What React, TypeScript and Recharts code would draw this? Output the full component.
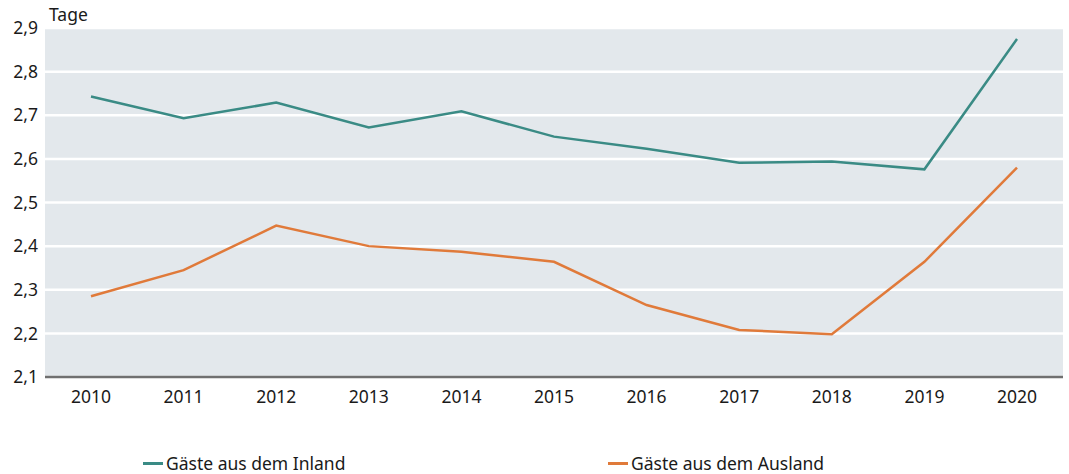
import React from "react";
import { LineChart, Line, XAxis, YAxis, CartesianGrid, Legend } from "recharts";

const years = ["2010", "2011", "2012", "2013", "2014", "2015", "2016", "2017", "2018", "2019", "2020"];
const inland = [2.743, 2.693, 2.729, 2.672, 2.709, 2.651, 2.623, 2.591, 2.594, 2.576, 2.875];
const ausland = [2.285, 2.345, 2.447, 2.4, 2.387, 2.364, 2.265, 2.208, 2.198, 2.364, 2.58];
const yTicks = [2.1, 2.2, 2.3, 2.4, 2.5, 2.6, 2.7, 2.8, 2.9];
const seriesNames = ["Gäste aus dem Inland", "Gäste aus dem Ausland"];
const unitLabel = "Tage";

const TEAL = "#3a8b85";
const ORANGE = "#e07a3a";
const FONT = "'Noto Sans', sans-serif";
const FS = 17.5;

const data = years.map((y, i) => ({ year: y, inland: inland[i], ausland: ausland[i] }));

const LegendContent = () => {
  const items = [
    { name: seriesNames[0], color: TEAL, left: 143 },
    { name: seriesNames[1], color: ORANGE, left: 608 },
  ];
  return (
    <div style={{ position: "relative", width: 1069, height: 20, fontFamily: FONT, fontSize: FS, color: "#1a1a1a" }}>
      {items.map((it) => (
        <div
          key={it.name}
          style={{ position: "absolute", left: it.left, top: 0, height: 20, display: "flex", alignItems: "center", whiteSpace: "nowrap" }}
        >
          <span style={{ display: "inline-block", width: 20, height: 3, background: it.color, marginRight: 3 }} />
          <span style={{ lineHeight: "20px" }}>{it.name}</span>
        </div>
      ))}
    </div>
  );
};

export default function App() {
  return (
    <div style={{ position: "absolute", left: 0, top: 0, width: 1069, height: 474, background: "#fff" }}>
      <LineChart width={1069} height={474} data={data} margin={{ top: 28, right: 6, bottom: 47, left: 0 }}>
        <CartesianGrid vertical={false} stroke="#ffffff" strokeWidth={2.5} fill="#e3e8ec" />
        <XAxis
          dataKey="year"
          padding={{ left: 46, right: 46 }}
          tickLine={false}
          axisLine={{ stroke: "#707070", strokeWidth: 2.5 }}
          tick={{ fill: "#1a1a1a", fontSize: FS, fontFamily: FONT }}
          tickMargin={8}
          height={30}
        />
        <YAxis
          domain={[2.1, 2.9]}
          ticks={yTicks}
          width={45}
          axisLine={false}
          tickLine={false}
          tickMargin={1}
          interval={0}
          tick={{ fill: "#1a1a1a", fontSize: FS, fontFamily: FONT }}
          tickFormatter={(v: number) => v.toFixed(1).replace(".", ",")}
          label={{ value: unitLabel, position: "insideTopLeft", dx: 44, dy: -24, fill: "#1a1a1a", fontSize: FS, fontFamily: FONT }}
        />
        <Legend
          verticalAlign="bottom"
          content={<LegendContent />}
          wrapperStyle={{ top: 453, left: 0, width: 1069, height: 20 }}
        />
        <Line type="linear" dataKey="inland" name={seriesNames[0]} stroke={TEAL} strokeWidth={2.5} dot={false} isAnimationActive={false} />
        <Line type="linear" dataKey="ausland" name={seriesNames[1]} stroke={ORANGE} strokeWidth={2.5} dot={false} isAnimationActive={false} />
      </LineChart>
    </div>
  );
}
